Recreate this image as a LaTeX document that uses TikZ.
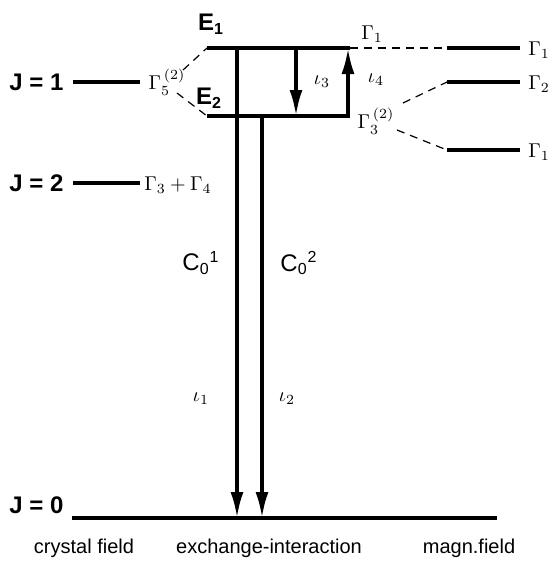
\documentclass[tikz,border=0pt]{standalone}
\usepackage{fontspec}
\setsansfont{Liberation Sans}
\usetikzlibrary{positioning,arrows.meta}

\begin{document}
\begin{tikzpicture}[
    x=0.5pt, y=-0.5pt,
    level/.style={line width=2.3pt},
    trans/.style={line width=1.7pt, -{Latex[length=13pt,width=6.5pt]}},
    corr/.style={line width=0.6pt, dash pattern=on 4pt off 3pt},
    jlab/.style={font=\sffamily\bfseries\large, anchor=west, inner sep=0pt},
    elab/.style={font=\sffamily\bfseries\large, inner sep=0pt},
    clab/.style={font=\sffamily\large, inner sep=0pt},
    glab/.style={font=\normalsize, inner sep=0pt},
    bottom/.style={font=\sffamily, inner sep=0pt}
]
\useasboundingbox (0,0) rectangle (547,563);

% level end points
\coordinate (j1l) at (73,82);   \coordinate (j1r) at (140,82);
\coordinate (j2l) at (73,183);  \coordinate (j2r) at (140,183);
\coordinate (j0l) at (72,518);  \coordinate (j0r) at (497,518);
\coordinate (e1l) at (207,48);  \coordinate (e1r) at (350,48);
\coordinate (e2l) at (207,116); \coordinate (e2r) at (350,116);
\coordinate (m1l) at (447,48);  \coordinate (m1r) at (520,48);
\coordinate (m2l) at (447,82);  \coordinate (m2r) at (520,82);
\coordinate (m3l) at (447,150); \coordinate (m3r) at (520,150);

% levels
\draw[level] (j1l) -- (j1r);
\draw[level] (j2l) -- (j2r);
\draw[level] (j0l) -- (j0r);
\draw[level] (e1l) -- (e1r);
\draw[level] (e2l) -- (e2r);
\draw[level] (m1l) -- (m1r);
\draw[level] (m2l) -- (m2r);
\draw[level] (m3l) -- (m3r);

% labels
\node[jlab] (jone) at (9,82) {J = 1};
\node[jlab] (jtwo) at (9,183) {J = 2};
\node[jlab] (jzero) at (9,505) {J = 0};
\node[glab] (g5) at (167,82) {$\Gamma_5^{\,(2)}$};
\node[glab] (g34) at (178,185) {$\Gamma_3+\Gamma_4$};
\node[elab] (eone) at (211,24) {E\textsubscript{1}};
\node[elab] (etwo) at (209,98) {E\textsubscript{2}};
\node[glab] (gtop) at (372,34) {$\Gamma_1$};
\node[glab] (g3) at (376,121) {$\Gamma_3^{\,(2)}$};
\node[glab] (ithree) at (322,82) {$\iota_3$};
\node[glab] (ifour) at (376,80) {$\iota_4$};
\node[glab, anchor=west] (ga) at (528,50) {$\Gamma_1$};
\node[glab, anchor=west] (gb) at (528,84) {$\Gamma_2$};
\node[glab, anchor=west] (gc) at (528,152) {$\Gamma_1$};
\node[clab] (cone) at (201,263) {C\textsubscript{0}\textsuperscript{1}};
\node[clab] (ctwo) at (299,263) {C\textsubscript{0}\textsuperscript{2}};
\node[glab] (ione) at (201,399) {$\iota_1$};
\node[glab] (itwo) at (287,399) {$\iota_2$};
\node[bottom] (cf) at (84,548) {crystal field};
\node[bottom] (ex) at (269,548) {exchange-interaction};
\node[bottom] (mf) at (469,548) {magn.field};

% correlation lines
\coordinate (g5a) at (183,70);
\coordinate (g5b) at (177,93);
\coordinate (g3a) at (403,103);
\coordinate (g3b) at (397,130);
\draw[corr] (g5a) -- (e1l);
\draw[corr] (g5b) -- (e2l);
\draw[corr] (e1r) -- (m1l);
\draw[corr] (g3a) -- (m2l);
\draw[corr] (g3b) -- (m3l);

% transitions
\coordinate (t1a) at (237,48);  \coordinate (t1b) at (237,518);
\coordinate (t2a) at (262,116); \coordinate (t2b) at (262,518);
\coordinate (t3a) at (296,48);  \coordinate (t3b) at (296,116);
\coordinate (t4a) at (348,116); \coordinate (t4b) at (348,48);
\draw[trans] (t1a) -- (t1b);
\draw[trans] (t2a) -- (t2b);
\draw[trans] (t3a) -- (t3b);
\draw[trans] (t4a) -- (t4b);
\end{tikzpicture}
\end{document}
